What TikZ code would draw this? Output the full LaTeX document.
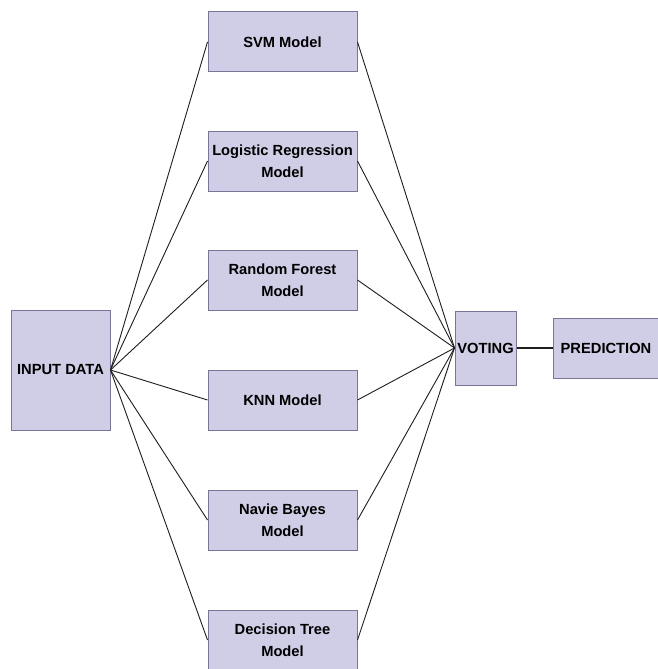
\documentclass[tikz,border=0pt]{standalone}
\usepackage{fontspec}
\setmainfont{Liberation Sans}
\definecolor{boxfill}{RGB}{208,206,230}
\definecolor{boxdraw}{RGB}{120,118,150}
\definecolor{linecol}{RGB}{30,30,30}
\begin{document}
\begin{tikzpicture}[x=1pt,y=-1pt,
  box/.style={draw=boxdraw,fill=boxfill,line width=1pt,inner sep=0pt,align=center,
    font=\fontsize{14.7}{22}\selectfont\bfseries},
  model/.style={box,minimum width=149pt,minimum height=60pt},
  conn/.style={draw=linecol,line width=0.9pt}]
\useasboundingbox (0,0) rectangle (658,669);
\fill[white] (0,0) rectangle (658,669);
\node[box,minimum width=99pt,minimum height=120pt] (in) at (60.5,370) {INPUT DATA};
\node[model] (m1) at (282.5,42) {SVM Model};
\node[model] (m2) at (282.5,161) {Logistic Regression\\Model};
\node[model] (m3) at (282.5,280) {Random Forest\\Model};
\node[model] (m4) at (282.5,400) {KNN Model};
\node[model] (m5) at (282.5,520) {Navie Bayes\\Model};
\node[model] (m6) at (282.5,640) {Decision Tree\\Model};
\node[box,minimum width=61pt,minimum height=74pt] (vote) at (485.5,348) {VOTING};
\node[box,minimum width=106pt,minimum height=60pt] (pred) at (606,348) {PREDICTION};
\foreach \m in {m1,m2,m3,m4,m5,m6}{
  \draw[conn] (in.east) -- (\m.west);
  \draw[conn] (\m.east) -- (vote.west);
}
\draw[conn,line width=1.6pt] (vote.east) -- (pred.west);
\end{tikzpicture}
\end{document}
